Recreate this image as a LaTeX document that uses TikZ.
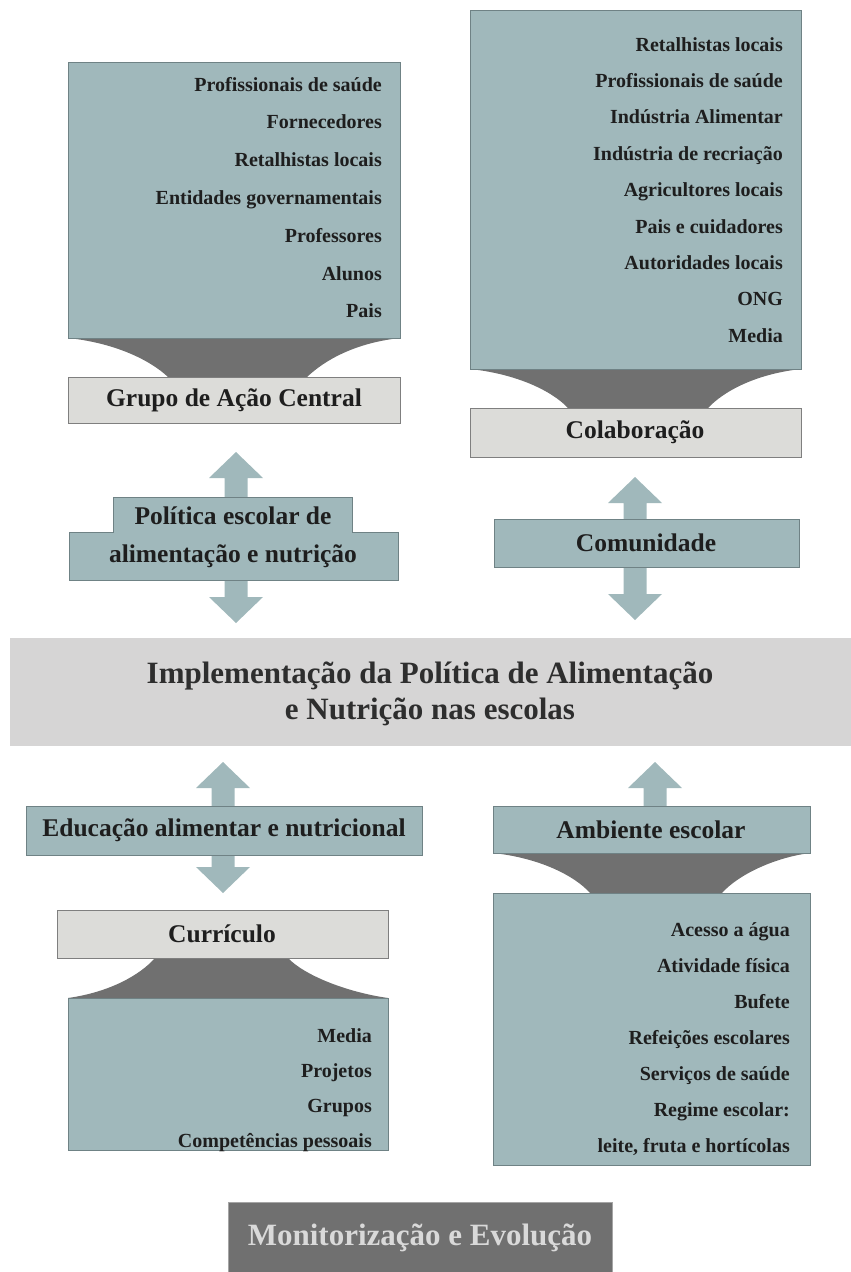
\documentclass[tikz,border=0pt]{standalone}
\usepackage{fontspec}
\setmainfont{Liberation Serif}
\usetikzlibrary{calc}
\definecolor{tealfill}{HTML}{A0B8BB}
\definecolor{tealedge}{HTML}{6F8285}
\definecolor{lgfill}{HTML}{DCDCD9}
\definecolor{lgedge}{HTML}{7F7F7F}
\definecolor{funnelgray}{HTML}{707070}
\definecolor{bandfill}{HTML}{D6D5D5}
\definecolor{textcol}{HTML}{1E1E1E}
\definecolor{bandtext}{HTML}{2E2E2E}
\definecolor{montext}{HTML}{D9D9D9}
\newcommand{\blkup}[3]{\fill[arrowfill] (#1,#2) -- (#1+27,#2+26) -- (#1+11.5,#2+26) -- (#1+11.5,#3) -- (#1-11.5,#3) -- (#1-11.5,#2+26) -- (#1-27,#2+26) -- cycle;}
\newcommand{\blkdown}[3]{\fill[arrowfill] (#1,#2) -- (#1+27,#2-26) -- (#1+11.5,#2-26) -- (#1+11.5,#3) -- (#1-11.5,#3) -- (#1-11.5,#2-26) -- (#1-27,#2-26) -- cycle;}
\begin{document}
\begin{tikzpicture}[x=1pt,y=-1pt,
  tealbox/.style={draw=tealedge, fill=tealfill, line width=1pt, inner sep=0pt, anchor=north west},
  graybox/.style={draw=lgedge, fill=lgfill, line width=1pt, inner sep=0pt, anchor=north west},
  item/.style={anchor=base east, font=\fontsize{20}{24}\selectfont\bfseries, text=textcol, inner sep=0pt},
  lbl/.style={font=\fontsize{25.5}{30}\selectfont\bfseries, text=textcol, inner sep=0pt},
  arrowfill/.style={fill=tealfill},
  funnel/.style={fill=funnelgray}]
\useasboundingbox (0,0) rectangle (851,1272);

% ---------- top left ----------
\fill[funnel] (68,338) .. controls (115,343) and (150,360) .. (168,377) -- (307,377) .. controls (325,360) and (355,343) .. (400,338) -- cycle;
\node[tealbox, minimum width=332pt, minimum height=276pt] (tl) at (68,62) {};
\foreach \t [count=\i from 0] in {Profissionais de saúde,Fornecedores,Retalhistas locais,Entidades governamentais,Professores,Alunos,Pais}
  \node[item] (tl\i) at (382,{91+37.8*\i}) {\t};
\node[graybox, minimum width=332pt, minimum height=46pt] (grupo) at (68,377) {};
\node[lbl] (grupolbl) at (234,400) {Grupo de Ação Central};

% politica arrows
\blkup{236}{452}{505}
\blkdown{236}{623}{570}
\draw[draw=tealedge, fill=tealfill, line width=1pt] (113,532) -- (113,497) -- (352,497) -- (352,532) -- (398,532) -- (398,580) -- (69,580) -- (69,532) -- cycle;
\node[lbl] (pol1) at (233,516) {Política escolar de};
\node[lbl] (pol2) at (233,556) {alimentação e nutrição};

% ---------- top right ----------
\fill[funnel] (470,369) .. controls (517,374) and (552,391) .. (568,408) -- (708,408) .. controls (724,391) and (756,374) .. (801,369) -- cycle;
\node[tealbox, minimum width=331pt, minimum height=359pt] (tr) at (470,10) {};
\foreach \t [count=\i from 0] in {Retalhistas locais,Profissionais de saúde,Indústria Alimentar,Indústria de recriação,Agricultores locais,Pais e cuidadores,Autoridades locais,ONG,Media}
  \node[item] (tr\i) at (783,{51+36.4*\i}) {\t};
\node[graybox, minimum width=331pt, minimum height=49pt] (colab) at (470,408) {};
\node[lbl] (colablbl) at (635,432) {Colaboração};

\blkup{635}{477}{525}
\blkdown{635}{620}{560}
\node[tealbox, minimum width=305pt, minimum height=48pt] (comun) at (494,519) {};
\node[lbl] (comunlbl) at (646,543) {Comunidade};

% ---------- band ----------
\node[fill=bandfill, minimum width=841pt, minimum height=108pt, inner sep=0pt, anchor=north west] (band) at (10,638) {};
\node[font=\fontsize{31}{36}\selectfont\bfseries, text=bandtext, align=center, inner sep=0pt] (bandlbl) at (430,694) {Implementação da Política de Alimentação\\e Nutrição nas escolas};

% ---------- bottom left ----------
\blkup{223}{762}{812}
\blkdown{223}{893}{850}
\node[tealbox, minimum width=396pt, minimum height=49pt] (edu) at (26,806) {};
\node[lbl] (edulbl) at (224,830) {Educação alimentar e nutricional};
\fill[funnel] (155,958) .. controls (140,975) and (110,992) .. (68,998) -- (388,998) .. controls (346,992) and (304,975) .. (288,958) -- cycle;
\node[graybox, minimum width=331pt, minimum height=48pt] (curr) at (57,910) {};
\node[lbl] (currlbl) at (222,934) {Currículo};
\node[tealbox, minimum width=320pt, minimum height=152pt] (bl) at (68,998) {};
\foreach \t [count=\i from 0] in {Media,Projetos,Grupos,Competências pessoais}
  \node[item] (bl\i) at (372,{1042+35*\i}) {\t};

% ---------- bottom right ----------
\blkup{655}{762}{812}
\fill[funnel] (493,853) .. controls (540,858) and (575,876) .. (590,893) -- (722,893) .. controls (737,876) and (772,858) .. (810,853) -- cycle;
\node[tealbox, minimum width=317pt, minimum height=47pt] (amb) at (493,806) {};
\node[lbl] (amblbl) at (651,830) {Ambiente escolar};
\node[tealbox, minimum width=317pt, minimum height=272pt] (br) at (493,893) {};
\foreach \t [count=\i from 0] in {Acesso a água,Atividade física,Bufete,Refeições escolares,Serviços de saúde,Regime escolar:,{leite, fruta e hortícolas}}
  \node[item] (br\i) at (790,{936+36*\i}) {\t};

% ---------- monitor ----------
\node[fill=funnelgray, draw=lgedge!70, minimum width=384pt, minimum height=70pt, inner sep=0pt, anchor=north west] (mon) at (228,1202) {};
\node[font=\fontsize{31}{36}\selectfont\bfseries, text=montext, inner sep=0pt] (monlbl) at (420,1238) {Monitorização e Evolução};
\end{tikzpicture}
\end{document}
